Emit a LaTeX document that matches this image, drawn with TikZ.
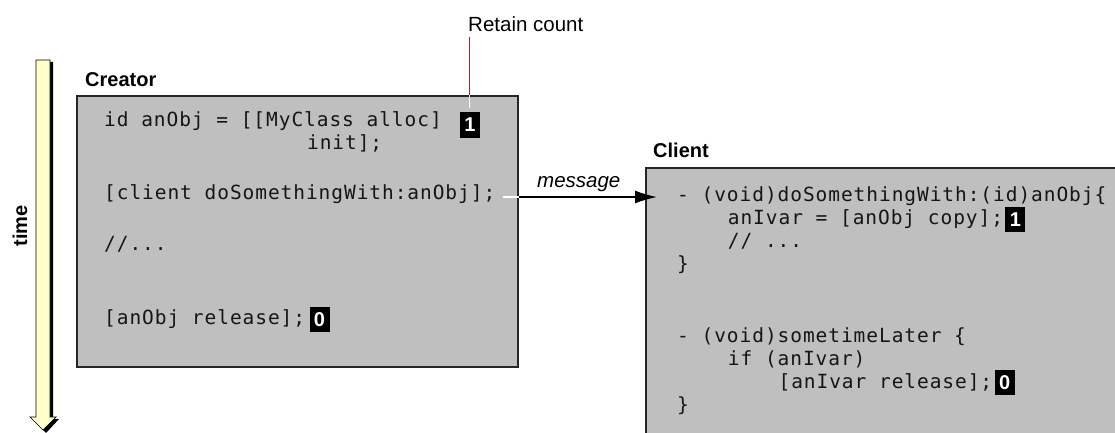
\documentclass[tikz,border=0pt]{standalone}
\usepackage{fontspec}
\setmainfont{Liberation Sans}
\newfontfamily\codefont[LetterSpace=4.8]{DejaVu Sans Mono}
\usetikzlibrary{arrows.meta}
\definecolor{panelgray}{HTML}{BFBFBF}
\definecolor{timeyellow}{HTML}{FFFFCC}
\definecolor{retainred}{HTML}{A3262B}
\definecolor{codeink}{HTML}{151515}
\begin{document}
\begin{tikzpicture}[x=1pt,y=-1pt,
  code/.style={anchor=mid west, inner sep=0pt, text=codeink,
    font=\codefont\fontsize{19.5}{23}\selectfont},
  lbl/.style={anchor=base west, inner sep=0pt,
    font=\bfseries\fontsize{20}{24}\selectfont},
  badge/.style={fill=black, text=white, inner sep=0pt,
    minimum width=20pt, minimum height=25pt,
    font=\bfseries\fontsize{20}{20}\selectfont},
  panel/.style={fill=panelgray, draw=black!85, line width=1.8pt,
    inner sep=0pt, anchor=north west}]
\clip (0,0) rectangle (1115,433);
\fill[white] (0,0) rectangle (1115,433);

% time arrow
\fill[black] (39,62) -- (53,62) -- (53,419) -- (59,419) -- (46,433) -- (33,419) -- (39,419) -- cycle;
\draw[fill=timeyellow, line width=0.7pt] (36,60) -- (50,60) -- (50,417) -- (56,417) -- (43,430) -- (30,417) -- (36,417) -- cycle;
\node[rotate=90, inner sep=0pt, font=\bfseries\fontsize{20}{24}\selectfont] (time) at (20,226) {time};

% panels
\node[panel, minimum width=441pt, minimum height=271pt] (creator) at (76,95) {};
\node[panel, minimum width=490pt, minimum height=290pt] (client) at (645,167) {};

% labels
\node[lbl] (creatorlbl) at (85,87) {Creator};
\node[lbl] (clientlbl) at (653,157) {Client};
\node[anchor=base west, inner sep=0pt, font=\fontsize{20.5}{24}\selectfont] (retain) at (468,32) {Retain count};
\node[anchor=base west, inner sep=0pt, font=\itshape\fontsize{20.5}{24}\selectfont] (msg) at (537,187) {message};

% creator code
\node[code] (c1) at (104,124) {id anObj = [[MyClass alloc]};
\node[code] (c2) at (306.9,147) {init];};
\node[code] (c3) at (104,197) {[client doSomethingWith:anObj];};
\node[code] (c4) at (104,248) {//...};
\node[code] (c5) at (104,322) {[anObj release];};
\node[badge] (b1) at (470,125) {1};
\node[badge, anchor=west] (b0) at ([xshift=4pt]c5.east) {0};

% client code
\node[code] (m1) at (677,199) {- (void)doSomethingWith:(id)anObj\{};
\node[code] (m2) at (727.7,222) {anIvar = [anObj copy];};
\node[code] (m3) at (727.7,245) {// ...};
\node[code] (m4) at (677,268) {\}};
\node[code] (n1) at (677,340) {- (void)sometimeLater \{};
\node[code] (n2) at (727.7,363) {if (anIvar)};
\node[code] (n3) at (778.4,386) {[anIvar release];};
\node[code] (n4) at (677,409) {\}};
\node[badge, anchor=west] (mb1) at ([xshift=2pt]m2.east) {1};
\node[badge, anchor=west] (nb0) at ([xshift=2pt]n3.east) {0};

% retain count pointer
\draw[retainred, line width=1.4pt] ([xshift=1.5pt,yshift=-5pt]retain.base west) -- ([xshift=1.5pt]retain.west |- creator.north);
\draw[white, line width=1.4pt] ([xshift=1.5pt]retain.west |- creator.north) -- ([xshift=1.5pt,yshift=4pt]retain.west |- b1.north);

% message arrow
\coordinate (mstart) at ([xshift=8pt]c3.mid east);
\draw[white, line width=1.6pt] (mstart) -- (creator.east |- mstart);
\draw[black, line width=1.6pt, -{Latex[length=22pt, width=13pt]}] (creator.east |- mstart) -- ([xshift=12pt]client.west |- mstart);
\end{tikzpicture}
\end{document}
